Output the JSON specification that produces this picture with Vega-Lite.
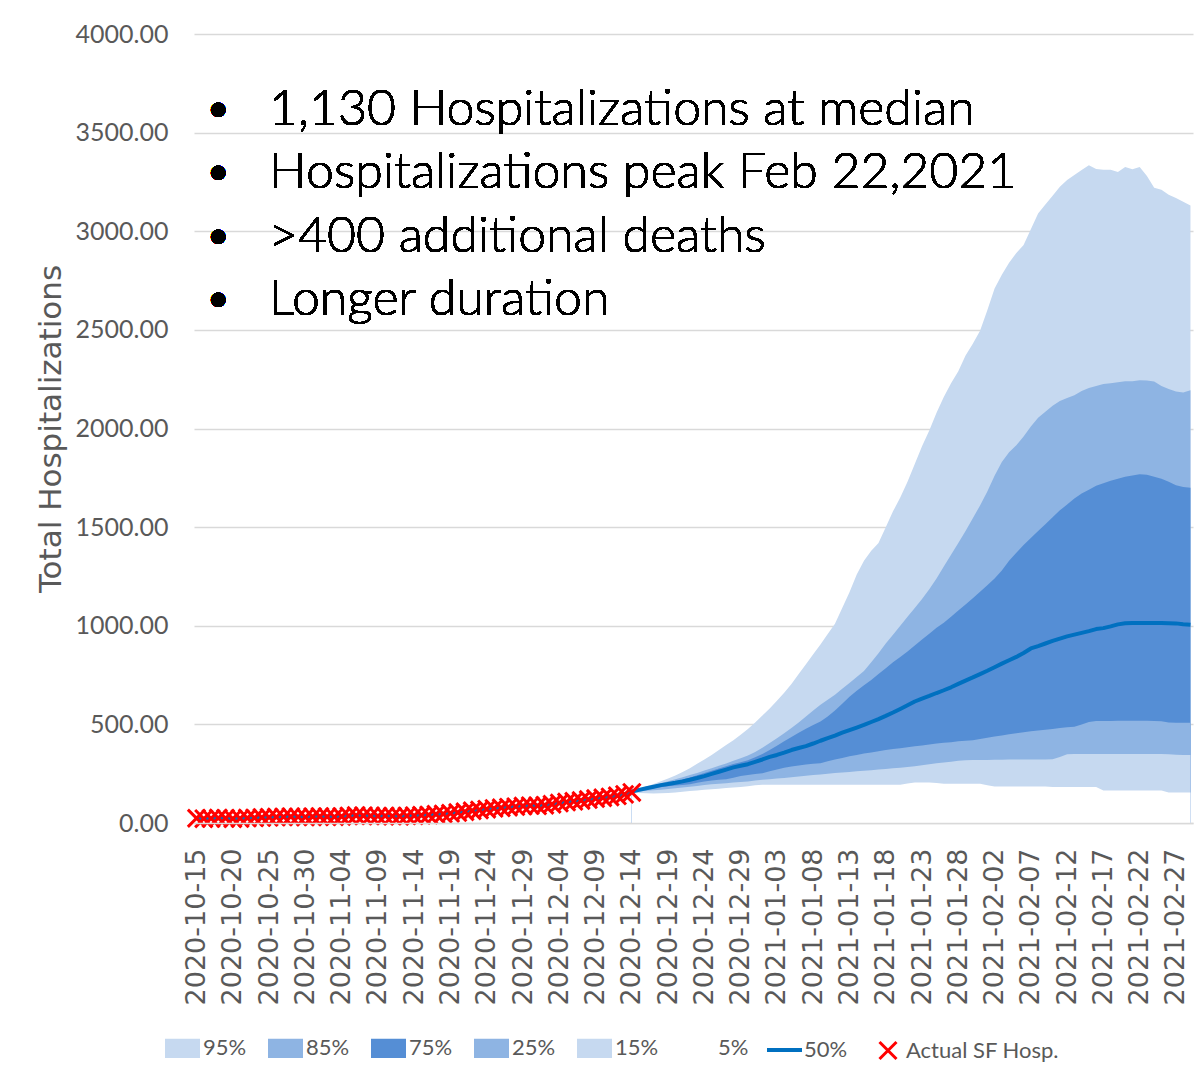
{
  "$schema": "https://vega.github.io/schema/vega-lite/v6.json",
  "width": 999,
  "height": 789,
  "autosize": {"type": "none"},
  "padding": {"left": 194, "top": 34, "right": 3, "bottom": 259},
  "background": "white",
  "config": {"view": {"stroke": null}},
  "data": {"values": [
    {"d":"2020-10-15","act":24,"p50":24},{"d":"2020-10-16","act":22,"p50":22},{"d":"2020-10-17","act":23,"p50":23},{"d":"2020-10-18","act":25,"p50":25},{"d":"2020-10-19","act":24,"p50":24},
    {"d":"2020-10-20","act":22,"p50":22},{"d":"2020-10-21","act":23,"p50":23},{"d":"2020-10-22","act":25,"p50":25},{"d":"2020-10-23","act":26,"p50":26},{"d":"2020-10-24","act":28,"p50":28},
    {"d":"2020-10-25","act":29,"p50":29},{"d":"2020-10-26","act":30,"p50":30},{"d":"2020-10-27","act":31,"p50":31},{"d":"2020-10-28","act":32,"p50":32},{"d":"2020-10-29","act":31,"p50":31},
    {"d":"2020-10-30","act":30,"p50":30},{"d":"2020-10-31","act":32,"p50":32},{"d":"2020-11-01","act":33,"p50":33},{"d":"2020-11-02","act":32,"p50":32},{"d":"2020-11-03","act":31,"p50":31},
    {"d":"2020-11-04","act":33,"p50":33},{"d":"2020-11-05","act":36,"p50":36},{"d":"2020-11-06","act":38,"p50":38},{"d":"2020-11-07","act":37,"p50":37},{"d":"2020-11-08","act":36,"p50":36},
    {"d":"2020-11-09","act":35,"p50":35},{"d":"2020-11-10","act":36,"p50":36},{"d":"2020-11-11","act":35,"p50":35},{"d":"2020-11-12","act":34,"p50":34},{"d":"2020-11-13","act":36,"p50":36},
    {"d":"2020-11-14","act":37,"p50":37},{"d":"2020-11-15","act":39,"p50":39},{"d":"2020-11-16","act":41,"p50":41},{"d":"2020-11-17","act":44,"p50":44},{"d":"2020-11-18","act":46,"p50":46},
    {"d":"2020-11-19","act":49,"p50":49},{"d":"2020-11-20","act":53,"p50":53},{"d":"2020-11-21","act":57,"p50":57},{"d":"2020-11-22","act":62,"p50":62},{"d":"2020-11-23","act":66,"p50":66},
    {"d":"2020-11-24","act":70,"p50":70},{"d":"2020-11-25","act":74,"p50":74},{"d":"2020-11-26","act":77,"p50":77},{"d":"2020-11-27","act":80,"p50":80},{"d":"2020-11-28","act":83,"p50":83},
    {"d":"2020-11-29","act":86,"p50":86},{"d":"2020-11-30","act":88,"p50":88},{"d":"2020-12-01","act":87,"p50":87},{"d":"2020-12-02","act":90,"p50":90},{"d":"2020-12-03","act":95,"p50":95},
    {"d":"2020-12-04","act":101,"p50":101},{"d":"2020-12-05","act":106,"p50":106},{"d":"2020-12-06","act":110,"p50":110},{"d":"2020-12-07","act":114,"p50":114},{"d":"2020-12-08","act":119,"p50":119},
    {"d":"2020-12-09","act":124,"p50":124},{"d":"2020-12-10","act":128,"p50":128},{"d":"2020-12-11","act":132,"p50":132},{"d":"2020-12-12","act":138,"p50":138},{"d":"2020-12-13","act":145,"p50":145},
    {"d":"2020-12-14","act":155,"p95":160,"p85":160,"p75":160,"p50":160,"p25":158,"p15":156,"p5":154},
    {"d":"2020-12-15","p95":175,"p85":172,"p75":170,"p50":168,"p25":164,"p15":160,"p5":152},
    {"d":"2020-12-16","p95":185,"p85":181,"p75":179,"p50":176,"p25":170,"p15":163,"p5":151},
    {"d":"2020-12-17","p95":198,"p85":191,"p75":187,"p50":184,"p25":176,"p15":166,"p5":150},
    {"d":"2020-12-18","p95":212,"p85":201,"p75":196,"p50":192,"p25":181,"p15":169,"p5":151},
    {"d":"2020-12-19","p95":226,"p85":212,"p75":204,"p50":198,"p25":186,"p15":172,"p5":152},
    {"d":"2020-12-20","p95":241,"p85":222,"p75":212,"p50":204,"p25":190,"p15":176,"p5":155},
    {"d":"2020-12-21","p95":258,"p85":232,"p75":221,"p50":211,"p25":193,"p15":180,"p5":158},
    {"d":"2020-12-22","p95":278,"p85":243,"p75":231,"p50":219,"p25":196,"p15":184,"p5":162},
    {"d":"2020-12-23","p95":300,"p85":254,"p75":242,"p50":228,"p25":204,"p15":188,"p5":165},
    {"d":"2020-12-24","p95":322,"p85":266,"p75":254,"p50":238,"p25":211,"p15":193,"p5":168},
    {"d":"2020-12-25","p95":345,"p85":278,"p75":265,"p50":249,"p25":216,"p15":196,"p5":171},
    {"d":"2020-12-26","p95":370,"p85":290,"p75":276,"p50":260,"p25":219,"p15":199,"p5":174},
    {"d":"2020-12-27","p95":395,"p85":302,"p75":288,"p50":271,"p25":222,"p15":202,"p5":177},
    {"d":"2020-12-28","p95":420,"p85":315,"p75":299,"p50":282,"p25":230,"p15":205,"p5":180},
    {"d":"2020-12-29","p95":448,"p85":328,"p75":308,"p50":290,"p25":238,"p15":208,"p5":182},
    {"d":"2020-12-30","p95":476,"p85":342,"p75":318,"p50":298,"p25":243,"p15":211,"p5":186},
    {"d":"2020-12-31","p95":510,"p85":360,"p75":333,"p50":310,"p25":248,"p15":215,"p5":192},
    {"d":"2021-01-01","p95":545,"p85":382,"p75":350,"p50":322,"p25":252,"p15":219,"p5":194},
    {"d":"2021-01-02","p95":580,"p85":405,"p75":370,"p50":335,"p25":262,"p15":222,"p5":194},
    {"d":"2021-01-03","p95":620,"p85":430,"p75":392,"p50":345,"p25":271,"p15":225,"p5":194},
    {"d":"2021-01-04","p95":660,"p85":455,"p75":414,"p50":357,"p25":280,"p15":228,"p5":194},
    {"d":"2021-01-05","p95":705,"p85":482,"p75":436,"p50":370,"p25":286,"p15":232,"p5":194},
    {"d":"2021-01-06","p95":755,"p85":510,"p75":458,"p50":380,"p25":292,"p15":236,"p5":194},
    {"d":"2021-01-07","p95":805,"p85":540,"p75":478,"p50":390,"p25":296,"p15":240,"p5":194},
    {"d":"2021-01-08","p95":855,"p85":570,"p75":497,"p50":403,"p25":300,"p15":243,"p5":194},
    {"d":"2021-01-09","p95":905,"p85":600,"p75":515,"p50":417,"p25":303,"p15":246,"p5":194},
    {"d":"2021-01-10","p95":958,"p85":625,"p75":540,"p50":430,"p25":313,"p15":250,"p5":194},
    {"d":"2021-01-11","p95":1010,"p85":650,"p75":570,"p50":443,"p25":322,"p15":253,"p5":194},
    {"d":"2021-01-12","p95":1090,"p85":680,"p75":605,"p50":458,"p25":330,"p15":256,"p5":194},
    {"d":"2021-01-13","p95":1170,"p85":710,"p75":640,"p50":471,"p25":338,"p15":259,"p5":194},
    {"d":"2021-01-14","p95":1260,"p85":740,"p75":670,"p50":484,"p25":345,"p15":262,"p5":194},
    {"d":"2021-01-15","p95":1330,"p85":770,"p75":698,"p50":497,"p25":352,"p15":265,"p5":194},
    {"d":"2021-01-16","p95":1380,"p85":815,"p75":725,"p50":512,"p25":358,"p15":268,"p5":194},
    {"d":"2021-01-17","p95":1420,"p85":860,"p75":755,"p50":527,"p25":364,"p15":271,"p5":194},
    {"d":"2021-01-18","p95":1500,"p85":910,"p75":785,"p50":543,"p25":370,"p15":274,"p5":194},
    {"d":"2021-01-19","p95":1580,"p85":955,"p75":815,"p50":560,"p25":375,"p15":277,"p5":194},
    {"d":"2021-01-20","p95":1650,"p85":1000,"p75":842,"p50":578,"p25":379,"p15":280,"p5":194},
    {"d":"2021-01-21","p95":1730,"p85":1045,"p75":870,"p50":597,"p25":384,"p15":284,"p5":200},
    {"d":"2021-01-22","p95":1820,"p85":1090,"p75":900,"p50":616,"p25":389,"p15":288,"p5":205},
    {"d":"2021-01-23","p95":1910,"p85":1135,"p75":930,"p50":631,"p25":393,"p15":293,"p5":205},
    {"d":"2021-01-24","p95":1990,"p85":1185,"p75":960,"p50":644,"p25":398,"p15":298,"p5":205},
    {"d":"2021-01-25","p95":2080,"p85":1240,"p75":990,"p50":659,"p25":403,"p15":303,"p5":203},
    {"d":"2021-01-26","p95":2160,"p85":1300,"p75":1015,"p50":673,"p25":407,"p15":307,"p5":199},
    {"d":"2021-01-27","p95":2230,"p85":1360,"p75":1045,"p50":688,"p25":410,"p15":311,"p5":199},
    {"d":"2021-01-28","p95":2290,"p85":1420,"p75":1077,"p50":705,"p25":414,"p15":315,"p5":199},
    {"d":"2021-01-29","p95":2370,"p85":1480,"p75":1108,"p50":722,"p25":417,"p15":318,"p5":199},
    {"d":"2021-01-30","p95":2430,"p85":1545,"p75":1140,"p50":738,"p25":420,"p15":320,"p5":199},
    {"d":"2021-01-31","p95":2495,"p85":1610,"p75":1172,"p50":755,"p25":426,"p15":320,"p5":199},
    {"d":"2021-02-01","p95":2600,"p85":1680,"p75":1205,"p50":772,"p25":432,"p15":320,"p5":192},
    {"d":"2021-02-02","p95":2710,"p85":1760,"p75":1240,"p50":790,"p25":438,"p15":321,"p5":185},
    {"d":"2021-02-03","p95":2780,"p85":1830,"p75":1280,"p50":808,"p25":444,"p15":321,"p5":185},
    {"d":"2021-02-04","p95":2840,"p85":1880,"p75":1330,"p50":825,"p25":450,"p15":322,"p5":185},
    {"d":"2021-02-05","p95":2890,"p85":1915,"p75":1370,"p50":842,"p25":455,"p15":322,"p5":185},
    {"d":"2021-02-06","p95":2930,"p85":1960,"p75":1410,"p50":862,"p25":460,"p15":322,"p5":185},
    {"d":"2021-02-07","p95":3010,"p85":2010,"p75":1445,"p50":885,"p25":465,"p15":322,"p5":185},
    {"d":"2021-02-08","p95":3090,"p85":2055,"p75":1480,"p50":897,"p25":469,"p15":322,"p5":185},
    {"d":"2021-02-09","p95":3135,"p85":2085,"p75":1515,"p50":910,"p25":473,"p15":322,"p5":185},
    {"d":"2021-02-10","p95":3180,"p85":2115,"p75":1550,"p50":923,"p25":477,"p15":323,"p5":182},
    {"d":"2021-02-11","p95":3225,"p85":2140,"p75":1585,"p50":935,"p25":481,"p15":335,"p5":182},
    {"d":"2021-02-12","p95":3260,"p85":2155,"p75":1615,"p50":946,"p25":485,"p15":348,"p5":182},
    {"d":"2021-02-13","p95":3285,"p85":2168,"p75":1645,"p50":955,"p25":488,"p15":350,"p5":182},
    {"d":"2021-02-14","p95":3310,"p85":2190,"p75":1670,"p50":964,"p25":500,"p15":350,"p5":182},
    {"d":"2021-02-15","p95":3335,"p85":2205,"p75":1690,"p50":973,"p25":512,"p15":350,"p5":182},
    {"d":"2021-02-16","p95":3315,"p85":2215,"p75":1710,"p50":983,"p25":517,"p15":350,"p5":182},
    {"d":"2021-02-17","p95":3312,"p85":2225,"p75":1722,"p50":988,"p25":517,"p15":350,"p5":165},
    {"d":"2021-02-18","p95":3312,"p85":2230,"p75":1735,"p50":997,"p25":517,"p15":350,"p5":165},
    {"d":"2021-02-19","p95":3300,"p85":2235,"p75":1745,"p50":1007,"p25":518,"p15":350,"p5":165},
    {"d":"2021-02-20","p95":3326,"p85":2240,"p75":1755,"p50":1013,"p25":518,"p15":350,"p5":165},
    {"d":"2021-02-21","p95":3314,"p85":2240,"p75":1762,"p50":1014,"p25":518,"p15":350,"p5":165},
    {"d":"2021-02-22","p95":3326,"p85":2245,"p75":1768,"p50":1014,"p25":518,"p15":350,"p5":165},
    {"d":"2021-02-23","p95":3280,"p85":2243,"p75":1765,"p50":1014,"p25":518,"p15":350,"p5":165},
    {"d":"2021-02-24","p95":3220,"p85":2238,"p75":1755,"p50":1014,"p25":517,"p15":350,"p5":165},
    {"d":"2021-02-25","p95":3211,"p85":2215,"p75":1745,"p50":1014,"p25":516,"p15":350,"p5":165},
    {"d":"2021-02-26","p95":3185,"p85":2200,"p75":1730,"p50":1013,"p25":510,"p15":348,"p5":155},
    {"d":"2021-02-27","p95":3168,"p85":2188,"p75":1712,"p50":1012,"p25":508,"p15":346,"p5":155},
    {"d":"2021-02-28","p95":3150,"p85":2182,"p75":1703,"p50":1008,"p25":508,"p15":345,"p5":155},
    {"d":"2021-03-01","p95":3130,"p85":2194,"p75":1700,"p50":1005,"p25":508,"p15":345,"p5":155}
  ]},
  "encoding": {
    "x": {
      "field": "d", "type": "ordinal", "sort": "ascending",
      "scale": {"type": "point", "padding": 0.35},
      "axis": {
        "title": null,
        "values": ["2020-10-15","2020-10-20","2020-10-25","2020-10-30","2020-11-04","2020-11-09","2020-11-14","2020-11-19","2020-11-24","2020-11-29","2020-12-04","2020-12-09","2020-12-14","2020-12-19","2020-12-24","2020-12-29","2021-01-03","2021-01-08","2021-01-13","2021-01-18","2021-01-23","2021-01-28","2021-02-02","2021-02-07","2021-02-12","2021-02-17","2021-02-22","2021-02-27"],
        "labelAngle": -90, "labelFont": "DejaVu Sans", "labelFontSize": 27, "labelColor": "#595959",
        "labelPadding": 25, "ticks": false, "tickSize": 0, "labelOverlap": false,
        "domainColor": "#d9d9d9", "domainWidth": 1.5, "grid": false, "zindex": 1
      }
    }
  },
  "layer": [
    {
      "mark": {"type": "area", "opacity": 1, "interpolate": "linear"},
      "encoding": {
        "y": {
          "field": "p95", "type": "quantitative",
          "scale": {"domain": [0, 4000], "nice": false, "zero": true},
          "axis": {
            "title": "Total Hospitalizations", "titleFont": "DejaVu Sans", "titleFontSize": 31, "titleFontWeight": "normal",
            "titleColor": "#595959", "titlePadding": 8,
            "values": [0,500,1000,1500,2000,2500,3000,3500,4000], "format": ".2f",
            "labelFont": "Lato", "labelFontSize": 25, "labelColor": "#595959", "labelPadding": 26,
            "ticks": false, "tickSize": 0, "domain": false,
            "grid": true, "gridColor": "#d9d9d9", "gridWidth": 1.3
          }
        },
        "fill": {
          "datum": "95%", "type": "nominal",
          "scale": {
            "domain": ["95%","85%","75%","25%","15%","5%"],
            "range": ["#c6d9f0","#8eb4e3","#558ed5","#8eb4e3","#c6d9f0","#ffffff"]
          },
          "legend": {
            "orient": "none", "legendX": -29, "legendY": 996.5, "direction": "horizontal", "columns": 6,
            "title": null, "padding": 0, "symbolSize": 1225, "symbolType": "M-1,-0.55H1V0.55H-1Z",
            "symbolStrokeWidth": 0, "symbolOpacity": 1,
            "labelFont": "Lato", "labelFontSize": 22, "labelColor": "#595959", "labelOffset": 3,
            "columnPadding": 21, "labelLimit": 300
          }
        }
      }
    },
    {
      "mark": {"type": "area", "opacity": 1, "interpolate": "linear"},
      "encoding": {"y": {"field": "p85", "type": "quantitative"}, "fill": {"datum": "85%", "type": "nominal"}}
    },
    {
      "mark": {"type": "area", "opacity": 1, "interpolate": "linear"},
      "encoding": {"y": {"field": "p75", "type": "quantitative"}, "fill": {"datum": "75%", "type": "nominal"}}
    },
    {
      "mark": {"type": "area", "opacity": 1, "interpolate": "linear"},
      "encoding": {"y": {"field": "p25", "type": "quantitative"}, "fill": {"datum": "25%", "type": "nominal"}}
    },
    {
      "mark": {"type": "area", "opacity": 1, "interpolate": "linear"},
      "encoding": {"y": {"field": "p15", "type": "quantitative"}, "fill": {"datum": "15%", "type": "nominal"}}
    },
    {
      "mark": {"type": "area", "opacity": 1, "interpolate": "linear"},
      "encoding": {"y": {"field": "p5", "type": "quantitative"}, "fill": {"datum": "5%", "type": "nominal"}}
    },
    {
      "mark": {"type": "line", "strokeWidth": 4, "strokeJoin": "round"},
      "encoding": {
        "y": {"field": "p50", "type": "quantitative"},
        "stroke": {
          "datum": "50%", "type": "nominal",
          "scale": {"domain": ["50%"], "range": ["#0070c0"]},
          "legend": {
            "orient": "none", "legendX": 571, "legendY": 996.5, "title": null, "padding": 0,
            "symbolType": "stroke", "symbolSize": 1225, "symbolStrokeWidth": 4, "symbolStrokeColor": "#0070c0",
            "labelFont": "Lato", "labelFontSize": 22, "labelColor": "#595959", "labelOffset": 0
          }
        }
      }
    },
    {
      "mark": {"type": "point", "filled": false, "stroke": "#ff0000", "strokeWidth": 3, "size": 300, "opacity": 1},
      "encoding": {
        "y": {"field": "act", "type": "quantitative"},
        "shape": {
          "datum": "Actual SF Hosp.", "type": "nominal",
          "scale": {"domain": ["Actual SF Hosp."], "range": ["M-1,-1L1,1M1,-1L-1,1"]},
          "legend": {
            "orient": "none", "legendX": 683, "legendY": 1005.5, "title": null, "padding": 0,
            "symbolSize": 289, "symbolStrokeWidth": 3, "symbolStrokeColor": "#ff0000", "symbolFillColor": "transparent",
            "labelFont": "Lato", "labelFontSize": 22, "labelColor": "#595959", "labelOffset": 7
          }
        }
      }
    },
    {
      "mark": {"type": "text", "font": "Lato", "fontSize": 38, "color": "#000000", "align": "center", "baseline": "alphabetic", "lineHeight": 63.5},
      "encoding": {
        "x": {"datum": "2020-10-18", "type": "ordinal"},
        "y": {"datum": 3560, "type": "quantitative"},
        "text": {"value": ["•", "•", "•", "•"]}
      }
    },
    {
      "mark": {"type": "text", "font": "Lato", "fontSize": 50, "fontWeight": 300, "color": "#000000", "align": "left", "baseline": "alphabetic", "lineHeight": 63.5},
      "encoding": {
        "x": {"datum": "2020-10-25", "type": "ordinal"},
        "y": {"datum": 3539, "type": "quantitative"},
        "text": {"value": ["1,130 Hospitalizations at median", "Hospitalizations peak Feb 22,2021", ">400 additional deaths", "Longer duration"]}
      }
    }
  ]
}
